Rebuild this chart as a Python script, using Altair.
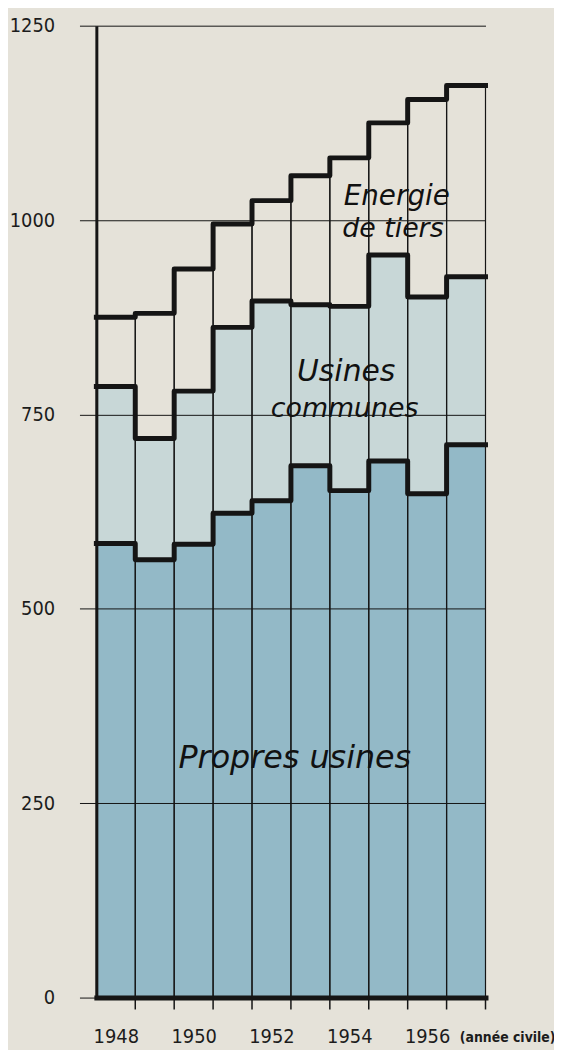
import altair as alt
import pandas as pd

# ---- data ----
years = list(range(1948, 1958))
propres = [584, 563, 583, 623, 639, 684, 652, 690, 648, 711]
communes = [202, 156, 197, 239, 257, 207, 237, 265, 253, 216]
tiers = [89, 161, 157, 133, 129, 166, 191, 170, 254, 246]

y_ticks = [0, 250, 500, 750, 1000, 1250]
label_years = [1948, 1950, 1952, 1954, 1956]

ann_text = ["Energie", "de tiers", "Usines", "communes", "Propres usines"]
ann_x = [1955.72, 1955.62, 1954.42, 1954.38, 1953.1]
ann_y = [1019, 978, 793, 747, 295]
ann_size = [28, 27, 30, 27, 32]

# ---- styling ----
BG = "#e5e2d9"
C_PROPRES = "#93b9c7"
C_COMMUNES = "#c8d7d7"
INK = "#151515"
W, H = 392, 979
NUM_FONT = "DejaVu Sans Condensed, DejaVu Sans, sans-serif"
TXT_FONT = "DejaVu Sans"

df = pd.DataFrame({"year": years, "propres": propres, "communes": communes, "tiers": tiers})
df["end"] = df["year"] + 1
df["zero"] = 0
df["c1"] = df["propres"]
df["c2"] = df["c1"] + df["communes"]
df["c3"] = df["c2"] + df["tiers"]

# step lines (extend last value to the right edge)
rows = []
for key in ["c1", "c2", "c3"]:
    for y, v in zip(df["year"], df[key]):
        rows.append({"s": key, "x": y, "v": v})
    rows.append({"s": key, "x": years[-1] + 1, "v": int(df[key].iloc[-1])})
steps = pd.DataFrame(rows)

bounds = pd.DataFrame({"b": [y + 1 for y in years]})
ann = pd.DataFrame({"t": ann_text, "x": ann_x, "y": ann_y, "fs": ann_size})

xs = alt.Scale(domain=[years[0], years[-1] + 1], nice=False, zero=False)
ys = alt.Scale(domain=[0, 1250], nice=False)

x_axis = alt.Axis(
    values=[y + 0.5 for y in label_years],
    labelExpr="'' + floor(datum.value)",
    ticks=False, grid=False, domain=True, domainColor=INK, domainWidth=5,
    domainCap="square",
    labelFont=NUM_FONT, labelFontSize=20, labelColor="#1c1c1c", labelPadding=29,
    labelFlush=False,
    title="(année civile)", titleX=462, titleY=40, titleAlign="right",
    titleBaseline="middle", titleFont=NUM_FONT, titleFontSize=14,
    titleFontWeight="bold", titleColor="#1c1c1c", zindex=1,
)
y_axis = alt.Axis(
    values=y_ticks, format="d", grid=True, gridColor=INK, gridWidth=1,
    ticks=True, tickColor=INK, tickSize=17, tickWidth=1,
    domainColor=INK, domainWidth=3,
    labelFont=NUM_FONT, labelFontSize=20, labelColor="#1c1c1c", labelPadding=25,
    labelFlush=False, title=None, zindex=1,
)

base = alt.Chart(df)

fill_p = base.mark_rect(color=C_PROPRES, strokeWidth=0).encode(
    x=alt.X("year:Q", scale=xs, axis=x_axis),
    x2="end:Q",
    y=alt.Y("c1:Q", scale=ys, axis=y_axis),
    y2="zero:Q",
)
fill_c = base.mark_rect(color=C_COMMUNES, strokeWidth=0).encode(
    x=alt.X("year:Q", scale=xs), x2="end:Q",
    y=alt.Y("c2:Q", scale=ys), y2="c1:Q",
)
outline = base.mark_rect(fillOpacity=0, stroke=INK, strokeWidth=1.2).encode(
    x=alt.X("year:Q", scale=xs), x2="end:Q",
    y=alt.Y("c3:Q", scale=ys), y2="zero:Q",
)
lines = alt.Chart(steps).mark_line(
    interpolate="step-after", color=INK, strokeWidth=5,
    strokeCap="square", strokeJoin="round",
).encode(
    x=alt.X("x:Q", scale=xs),
    y=alt.Y("v:Q", scale=ys),
    detail="s:N",
)
ticks = alt.Chart(bounds).mark_rule(color=INK, strokeWidth=1.5).encode(
    x=alt.X("b:Q", scale=xs),
    y=alt.value(H),
    y2=alt.value(H + 12),
)
labels = alt.Chart(ann).mark_text(
    font=TXT_FONT, fontStyle="italic", color="#111111",
    align="center", baseline="alphabetic",
).encode(
    x=alt.X("x:Q", scale=xs),
    y=alt.Y("y:Q", scale=ys),
    text="t:N",
    size=alt.Size("fs:Q", scale=None, legend=None),
)

chart = alt.layer(fill_p, fill_c, outline, lines, ticks, labels).properties(
    width=W, height=H,
    background=BG,
    autosize=alt.AutoSizeParams(type="none"),
    padding={"left": 89, "top": 14, "right": 69, "bottom": 49},
).configure_view(stroke=None)

chart.save("out.html", embed_options={"renderer": "svg", "actions": False})
